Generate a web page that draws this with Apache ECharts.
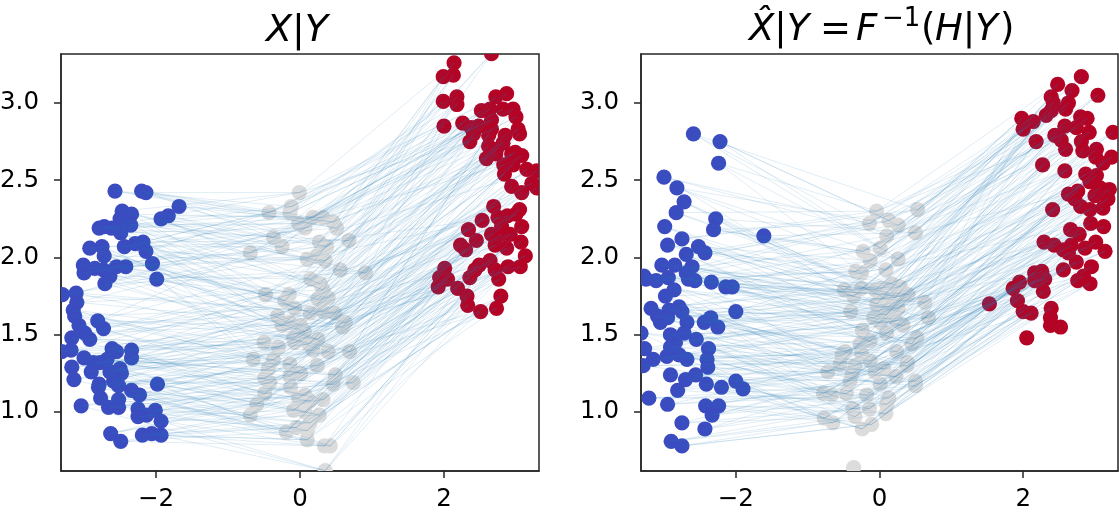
<!DOCTYPE html>
<html lang="en">
<head>
    <meta charset="UTF-8">
    <title>X|Y</title>
    <script src="https://cdn.jsdelivr.net/npm/echarts@6/dist/echarts.min.js"></script>
    <style>
        html, body { margin: 0; padding: 0; background: #fff; }
        #main { width: 1119px; height: 514px; }
    </style>
</head>
<body>
<div id="main"></div>

<script>
    var xTicks = [-2, 0, 2];
    var yTicks = [1, 1.5, 2, 2.5, 3];

    // left panel, X|Y
    var leftBlue = [[-2.57,2.43],[-2.20,2.43],[-2.14,2.42],[-1.68,2.33],[-1.83,2.27],[-1.93,2.25],[-2.47,2.30],[-2.34,2.28],[-2.35,2.21],[-2.50,2.25],
        [-2.79,2.19],[-2.72,2.20],[-2.62,2.19],[-2.49,2.16],[-2.44,2.07],[-2.29,2.09],[-2.18,2.10],[-2.14,2.04],[-2.92,2.06],[-2.75,2.07],
        [-2.72,2.01],[-3.01,1.95],[-3.00,1.90],[-2.85,1.93],[-2.73,1.92],[-2.55,1.94],[-2.42,1.94],[-2.64,1.88],[-2.71,1.83],[-2.05,1.96],
        [-1.99,1.86],[-3.30,1.76],[-3.11,1.77],[-3.10,1.71],[-3.15,1.66],[-3.13,1.62],[-2.81,1.59],[-3.07,1.56],[-2.73,1.54],[-2.99,1.51],
        [-2.92,1.47],[-3.17,1.48],[-3.18,1.40],[-3.31,1.39],[-3.00,1.35],[-2.87,1.32],[-2.61,1.41],[-2.55,1.39],[-2.34,1.40],[-2.34,1.35],
        [-2.68,1.34],[-2.78,1.32],[-2.90,1.26],[-3.17,1.29],[-3.14,1.21],[-2.64,1.26],[-2.50,1.28],[-2.48,1.25],[-1.98,1.18],[-2.79,1.18],
        [-2.80,1.16],[-2.59,1.20],[-2.52,1.17],[-2.34,1.14],[-2.23,1.11],[-2.77,1.09],[-2.52,1.08],[-2.66,1.03],[-2.52,1.03],[-3.04,1.04],
        [-2.25,1.02],[-2.25,0.97],[-2.13,0.98],[-2.01,1.01],[-1.93,0.94],[-2.63,0.86],[-2.49,0.81],[-2.19,0.85],[-2.06,0.86],[-1.93,0.85]];
    var leftGray = [[-0.01,2.42],[-0.12,2.33],[-0.14,2.29],[-0.43,2.29],[0.18,2.26],[0.32,2.26],[0.46,2.23],[0.51,2.19],[-0.02,2.22],[0.07,2.19],
        [-0.37,2.13],[-0.25,2.07],[-0.69,2.03],[0.27,2.10],[0.37,2.07],[0.68,2.11],[0.10,1.99],[0.23,2.01],[0.35,1.98],[0.56,1.92],
        [0.91,1.90],[0.15,1.86],[0.28,1.83],[0.32,1.79],[-0.48,1.76],[-0.15,1.76],[-0.21,1.72],[0.25,1.73],[0.39,1.74],[-0.07,1.67],
        [0.14,1.64],[0.32,1.65],[0.48,1.64],[0.63,1.58],[0.59,1.55],[-0.31,1.62],[-0.25,1.56],[-0.14,1.58],[0.01,1.56],[0.06,1.52],
        [-0.09,1.48],[-0.07,1.45],[0.25,1.47],[0.12,1.44],[0.18,1.40],[0.39,1.39],[0.69,1.39],[-0.50,1.45],[-0.30,1.42],[-0.65,1.34],
        [-0.37,1.34],[-0.44,1.28],[-0.14,1.31],[0.24,1.30],[-0.14,1.23],[0.01,1.25],[-0.49,1.22],[-0.42,1.19],[0.49,1.24],[0.46,1.18],
        [0.74,1.19],[-0.13,1.16],[-0.49,1.12],[-0.60,1.05],[-0.69,0.98],[0.07,1.11],[-0.02,1.09],[0.32,1.08],[0.14,1.07],[-0.09,1.01],
        [0.07,1.00],[0.27,0.98],[0.14,0.93],[-0.05,0.90],[-0.19,0.87],[0.10,0.88],[0.10,0.82],[0.34,0.78],[0.42,0.78],[0.35,0.62]];
    var leftRed = [[2.66,3.32],[2.14,3.26],[2.13,3.18],[1.99,3.17],[1.99,3.01],[2.18,3.04],[2.18,2.99],[2.00,2.85],[2.26,2.87],[2.72,3.04],
        [2.87,3.06],[2.52,2.95],[2.64,2.96],[2.82,2.96],[2.96,2.96],[3.00,2.91],[2.66,2.89],[2.48,2.85],[2.38,2.84],[2.66,2.83],
        [2.36,2.75],[2.41,2.80],[2.62,2.79],[3.03,2.83],[3.05,2.80],[2.85,2.79],[2.82,2.74],[2.62,2.72],[2.73,2.70],[2.59,2.64],
        [2.72,2.67],[2.99,2.68],[3.08,2.66],[2.94,2.67],[2.83,2.60],[2.96,2.60],[2.84,2.54],[3.15,2.57],[3.29,2.56],[3.22,2.48],
        [2.94,2.46],[3.08,2.42],[3.29,2.45],[2.69,2.33],[3.05,2.31],[2.75,2.26],[2.88,2.27],[3.00,2.28],[2.53,2.24],[2.34,2.18],
        [2.80,2.20],[3.08,2.20],[2.66,2.15],[2.80,2.15],[2.92,2.15],[2.71,2.08],[3.07,2.10],[2.87,2.06],[2.45,2.11],[2.23,2.08],
        [2.30,2.05],[3.13,2.01],[3.06,1.94],[2.64,1.98],[2.49,1.95],[2.43,1.92],[2.36,1.87],[2.71,1.92],[2.89,1.94],[2.76,1.86],
        [2.01,1.93],[1.94,1.87],[2.05,1.86],[1.92,1.81],[2.19,1.80],[2.32,1.75],[2.33,1.69],[2.51,1.65],[2.79,1.75],[2.73,1.67]];

    // right panel, X hat|Y
    var rightBlue = [[-2.59,2.80],[-2.22,2.75],[-2.24,2.61],[-3.00,2.52],[-2.82,2.45],[-2.72,2.36],[-2.83,2.29],[-2.28,2.25],[-2.31,2.18],[-2.99,2.20],
        [-2.75,2.12],[-2.95,2.08],[-1.61,2.14],[-2.52,2.07],[-2.43,2.03],[-2.69,2.02],[-3.03,1.95],[-2.85,1.95],[-2.61,1.94],[-2.69,1.90],
        [-3.28,1.88],[-3.25,1.86],[-3.11,1.85],[-2.94,1.87],[-2.66,1.86],[-2.57,1.85],[-2.34,1.84],[-2.14,1.81],[-2.05,1.81],[-2.86,1.79],
        [-2.98,1.75],[-3.18,1.67],[-2.79,1.68],[-2.75,1.65],[-2.93,1.66],[-3.09,1.62],[-2.00,1.65],[-3.05,1.58],[-2.95,1.61],[-2.68,1.58],
        [-2.44,1.58],[-2.35,1.61],[-2.25,1.55],[-2.72,1.51],[-2.91,1.50],[-3.32,1.51],[-2.55,1.47],[-2.84,1.45],[-2.91,1.42],[-3.27,1.41],
        [-2.38,1.41],[-2.96,1.36],[-2.79,1.37],[-2.68,1.34],[-3.15,1.34],[-3.29,1.30],[-2.40,1.34],[-2.39,1.29],[-2.56,1.24],[-2.91,1.24],
        [-2.70,1.21],[-2.41,1.18],[-2.20,1.16],[-2.00,1.20],[-1.90,1.15],[-2.81,1.14],[-3.21,1.09],[-2.95,1.05],[-2.42,1.04],[-2.24,1.04],
        [-2.33,0.98],[-2.75,0.93],[-2.43,0.89],[-2.90,0.81],[-2.75,0.78]];
    var rightGray = [[-0.04,2.30],[0.53,2.31],[-0.14,2.22],[0.13,2.24],[0.26,2.21],[0.50,2.16],[0.10,2.14],[0.01,2.06],[-0.23,2.04],[-0.13,1.98],
        [0.26,1.99],[0.09,1.92],[-0.33,1.91],[-0.25,1.90],[-0.49,1.79],[-0.25,1.80],[-0.36,1.75],[0.03,1.80],[0.17,1.83],[0.29,1.81],
        [-0.06,1.79],[0.40,1.76],[0.06,1.74],[0.22,1.74],[0.31,1.75],[0.63,1.71],[-0.04,1.70],[0.12,1.68],[0.26,1.67],[-0.40,1.65],
        [-0.01,1.65],[-0.08,1.61],[0.10,1.63],[0.68,1.61],[0.01,1.58],[0.23,1.59],[0.33,1.56],[0.10,1.51],[-0.24,1.53],[-0.13,1.46],
        [-0.27,1.44],[0.52,1.48],[0.45,1.44],[0.24,1.39],[-0.48,1.39],[-0.52,1.37],[-0.55,1.31],[-0.25,1.38],[-0.13,1.33],[0.39,1.32],
        [0.38,1.30],[-0.34,1.30],[0.06,1.28],[-0.06,1.26],[-0.38,1.25],[-0.72,1.26],[0.23,1.23],[-0.41,1.20],[0.01,1.18],[0.50,1.20],
        [0.50,1.17],[-0.78,1.12],[-0.67,1.11],[-0.46,1.12],[-0.18,1.11],[0.13,1.09],[0.10,1.05],[-0.37,1.02],[-0.14,1.02],[0.09,0.99],
        [-0.34,0.97],[-0.77,0.96],[-0.65,0.93],[-0.11,0.92],[-0.24,0.89],[-0.36,0.64]];
    var rightRed = [[2.81,3.17],[2.48,3.12],[2.68,3.08],[3.04,3.05],[2.39,3.04],[2.42,3.00],[2.63,3.00],[2.59,2.96],[2.39,2.95],[2.32,2.92],
        [2.80,2.91],[2.89,2.90],[1.98,2.90],[2.14,2.88],[2.00,2.83],[2.58,2.85],[2.74,2.84],[2.92,2.81],[3.25,2.81],[2.44,2.79],
        [2.53,2.76],[2.18,2.75],[2.81,2.75],[2.59,2.70],[2.83,2.69],[3.02,2.70],[3.23,2.65],[3.01,2.65],[3.11,2.61],[2.27,2.60],
        [2.58,2.56],[2.87,2.54],[3.02,2.53],[2.93,2.49],[2.63,2.41],[2.76,2.43],[2.72,2.38],[3.07,2.45],[3.20,2.44],[3.00,2.40],
        [3.18,2.38],[3.11,2.32],[2.80,2.33],[2.93,2.31],[2.41,2.31],[2.94,2.22],[3.12,2.20],[2.66,2.18],[2.78,2.15],[2.29,2.10],
        [2.43,2.08],[2.67,2.08],[3.01,2.10],[2.56,2.05],[2.86,2.06],[3.14,2.04],[2.63,2.03],[2.74,1.97],[2.56,1.92],[2.95,1.94],
        [2.16,1.90],[2.26,1.91],[2.30,1.86],[2.16,1.85],[1.95,1.84],[1.86,1.80],[2.76,1.85],[2.84,1.88],[2.93,1.83],[2.28,1.78],
        [1.92,1.72],[1.53,1.70],[2.00,1.65],[2.11,1.64],[2.39,1.67],[2.38,1.61],[2.38,1.56],[2.52,1.55],[2.05,1.48]];

    // which point joins which: rank in the list moved by these steps
    var linkStepsA = [0, 14, -9, 22, -17, 6, -24, 11, -4, 18, -13, 3, 26, -21, 8, -6];
    var linkStepsB = [-12, 5, 19, -20, 9, -3, 15, -26, 2, 24, -8, -16, 12, 7, -22, 17];
    var linkStepsC = [7, -15, 2, 13, -5, 25, -11, -19, 16, 4, -23, 10, -2, 21, -14, 1];

    var inkColor = '#262626';
    var linkColor = '#1f77b4';

    function makeAxes(gridIndex) {
        return {
            x: {
                type: 'value', gridIndex: gridIndex, min: -3.32, max: 3.32,
                splitLine: {show: false},
                axisLine: {show: true, onZero: false, lineStyle: {color: inkColor, width: 1.5}},
                axisTick: {show: true, length: 7, customValues: xTicks, lineStyle: {color: inkColor, width: 1.5}},
                axisLabel: {
                    customValues: xTicks, fontFamily: 'DejaVu Sans', fontSize: 24.5, color: '#000', margin: 16,
                    formatter: function (v) { return v < 0 ? '\u2212' + (-v) : '' + v; }
                }
            },
            y: {
                type: 'value', gridIndex: gridIndex, min: 0.618, max: 3.317,
                splitLine: {show: false},
                axisLine: {show: true, onZero: false, lineStyle: {color: inkColor, width: 1.5}},
                axisTick: {show: true, length: 7, customValues: yTicks, lineStyle: {color: inkColor, width: 1.5}},
                axisLabel: {
                    customValues: yTicks, fontFamily: 'DejaVu Sans', fontSize: 24.5, color: '#000', margin: 22,
                    padding: [5, 0, 0, 0],
                    formatter: function (v) { return v.toFixed(1); }
                }
            }
        };
    }

    function moved(count, steps, amount) {
        var order = [];
        for (var i = 0; i < count; i++) order.push(i);
        return order.sort(function (a, b) {
            return (a + amount * steps[a % steps.length]) - (b + amount * steps[b % steps.length]);
        });
    }

    function dots(gridIndex, points, color) {
        return {
            type: 'custom', xAxisIndex: gridIndex, yAxisIndex: gridIndex, data: points,
            clip: true, silent: true, z: 2,
            renderItem: function (params, api) {
                var p = api.coord([api.value(0), api.value(1)]);
                return {type: 'circle', shape: {cx: p[0], cy: p[1], r: 7.6}, style: {fill: color}};
            }
        };
    }

    function links(gridIndex, blue, gray, red) {
        var n = Math.min(blue.length, gray.length, red.length);
        var paths = [];
        [[linkStepsA, linkStepsB], [linkStepsB, linkStepsC], [linkStepsC, linkStepsA]].forEach(function (pair) {
            var grayOrder = moved(n, pair[0], 1);
            var redOrder = moved(n, pair[1], 0.6);
            for (var i = 0; i < n; i++) {
                paths.push({coords: [blue[i], gray[grayOrder[i]], red[redOrder[i]]]});
            }
        });
        return {
            type: 'lines', coordinateSystem: 'cartesian2d', xAxisIndex: gridIndex, yAxisIndex: gridIndex,
            polyline: true, data: paths, clip: true, silent: true, z: 3,
            lineStyle: {color: linkColor, width: 0.5, opacity: 0.27, curveness: 0}
        };
    }

    function piece(text, left, top, size, italic) {
        return {
            text: text, left: left, top: top, padding: 0,
            textStyle: {fontFamily: 'DejaVu Sans', fontSize: size, fontWeight: 'normal', fontStyle: italic ? 'italic' : 'normal', color: '#000'}
        };
    }

    var leftAxes = makeAxes(0);
    var rightAxes = makeAxes(1);

    var option = {
        animation: false,
        title: [
            piece('X|Y', 266, 12, 38, true),
            piece('X\u0302|Y', 749, 12, 37, true),
            piece('=', 820, 12, 37, false),
            piece('F', 856, 12, 37, true),
            piece('\u22121', 882, 6, 26, false),
            piece('(', 921, 12, 37, false),
            piece('H|Y', 935, 12, 37, true),
            piece(')', 1000, 12, 37, false)
        ],
        grid: [
            {left: 61, top: 54, width: 478, height: 417, outerBoundsMode: 'none', show: true, borderColor: inkColor, borderWidth: 1.5, backgroundColor: '#fff'},
            {left: 641, top: 54, width: 477, height: 417, outerBoundsMode: 'none', show: true, borderColor: inkColor, borderWidth: 1.5, backgroundColor: '#fff'}
        ],
        xAxis: [leftAxes.x, rightAxes.x],
        yAxis: [leftAxes.y, rightAxes.y],
        series: [
            dots(0, leftBlue, '#3b4cc0'), dots(0, leftGray, '#dddcdc'), dots(0, leftRed, '#b40426'),
            links(0, leftBlue, leftGray, leftRed),
            dots(1, rightBlue, '#3b4cc0'), dots(1, rightGray, '#dddcdc'), dots(1, rightRed, '#b40426'),
            links(1, rightBlue, rightGray, rightRed)
        ]
    };

    var myChart = echarts.init(document.getElementById('main'));
    myChart.setOption(option, true);
</script>
</body>
</html>
